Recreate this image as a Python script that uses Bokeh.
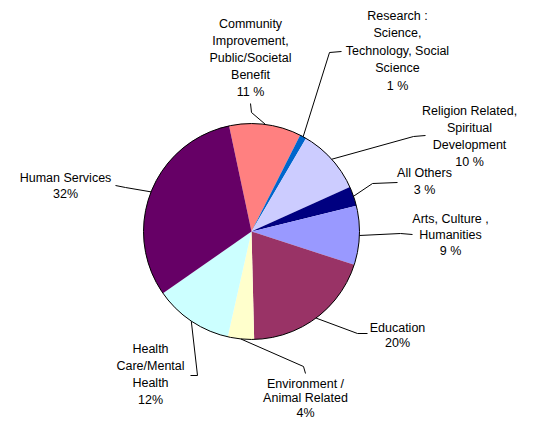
import numpy as np
from bokeh.plotting import figure
from bokeh.models import Range1d, ColumnDataSource
from bokeh.embed import file_html
from bokeh.resources import INLINE
from bokeh.core.properties import value

# ---- data ----
categories = ["Community Improvement, Public/Societal Benefit",
              "Research: Science, Technology, Social Science",
              "Religion Related, Spiritual Development",
              "All Others",
              "Arts, Culture, Humanities",
              "Education",
              "Environment / Animal Related",
              "Health Care/Mental Health",
              "Human Services"]
percent = [11, 1, 10, 3, 9, 20, 4, 12, 32]
label_lines = [
    ["Community", "Improvement,", "Public/Societal", "Benefit"],
    ["Research :", "Science,", "Technology, Social", "Science"],
    ["Religion Related,", "Spiritual", "Development"],
    ["All Others"],
    ["Arts, Culture ,", "Humanities"],
    ["Education"],
    ["Environment /", "Animal Related"],
    ["Health", "Care/Mental", "Health"],
    ["Human Services"],
]
pct_text = ["11 %", "1 %", "10 %", "3 %", "9 %", "20%", "4%", "12%", "32%"]
colors = ["#FF8080", "#0066CC", "#CCCCFF", "#000080", "#9999FF",
          "#993366", "#FFFFCC", "#CCFFFF", "#660066"]

# ---- layout (picture pixel coordinates) ----
W, H = 522, 418
cx_img, cy_img, R = 251, 231, 108
first_angle_deg = 12  # first slice starts 12 deg left of 12 o'clock

label_pos = [(250, 23, 17), (397, 15, 17.5), (469, 110, 17.3), (424, 172, 17),
             (450, 218, 16), (397, 327, 15), (305, 383, 14.5), (150, 348, 17.3),
             (65, 177, 16)]
leader_pts = [((250, 103), (251, 112)), ((341, 51), (329, 52)), ((425, 135), (413, 136)),
              ((397, 182), (372, 183)), ((412, 234), (400, 233)), ((367, 333), (357, 333)),
              ((305, 373), (303, 366)), ((190, 375), (197, 375)), ((115, 185), (125, 187))]


def Y(y_img):
    return H - y_img


p = figure(width=W, height=H, output_backend="svg", toolbar_location=None,
           x_range=Range1d(0, W), y_range=Range1d(0, H),
           min_border=0, outline_line_color=None)
p.axis.visible = False
p.grid.visible = False
p.background_fill_color = "white"
p.border_fill_color = "white"

vals = np.array(percent, dtype=float)
fr = vals / vals.sum()
start0 = np.pi / 2 + np.deg2rad(first_angle_deg)
cum = np.concatenate([[0], np.cumsum(fr)])
a_start = start0 - cum[:-1] * 2 * np.pi
a_end = start0 - cum[1:] * 2 * np.pi
mid = (a_start + a_end) / 2

cx, cy = cx_img, Y(cy_img)
src = ColumnDataSource(dict(x=[cx] * len(vals), y=[cy] * len(vals),
                            s=list(a_end), e=list(a_start), c=colors, name=categories))
p.wedge(x="x", y="y", radius=R, start_angle="s", end_angle="e",
        direction="anticlock", fill_color="c", line_color=None, source=src)
p.circle(x=[cx], y=[cy], radius=R, fill_color=None, line_color="black", line_width=1)

# leader lines
xs, ys = [], []
for i, ((lx, ly), (ex, ey)) in enumerate(leader_pts):
    px = cx + R * np.cos(mid[i])
    py = cy + R * np.sin(mid[i])
    xs.append([lx, ex, px])
    ys.append([Y(ly), Y(ey), py])
p.multi_line(xs=xs, ys=ys, line_color="black", line_width=1)

# labels
tx, ty, tt = [], [], []
for i, lines in enumerate(label_lines):
    x0, y0, sp = label_pos[i]
    for j, t in enumerate(lines + [pct_text[i]]):
        tx.append(x0)
        ty.append(Y(y0 + j * sp))
        tt.append(t)
p.text(x=tx, y=ty, text=tt, text_align="center", text_baseline="middle",
       text_font=value("Liberation Sans"), text_font_size="12.5px", text_color="black")

open("out.html", "w").write(file_html(p, INLINE))
